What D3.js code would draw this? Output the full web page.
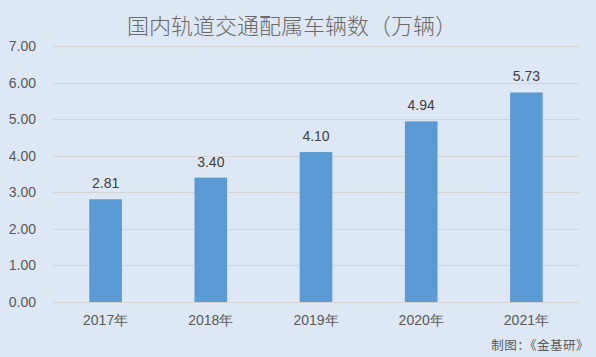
<!DOCTYPE html>
<html><head><meta charset="utf-8">
<script src="https://cdn.jsdelivr.net/npm/d3@7"></script>
<style>
html,body{margin:0;padding:0;background:#dde8f4;}
svg{display:block;font-family:"Noto Sans CJK SC","Noto Sans",sans-serif;}
</style></head>
<body><svg id="c" width="596" height="357"></svg>
<script>
const categories = ["2017年","2018年","2019年","2020年","2021年"];
const values = [2.81, 3.40, 4.10, 4.94, 5.73];
const yTicks = [0,1,2,3,4,5,6,7];
const title = "国内轨道交通配属车辆数（万辆）";
const source = "制图：《金基研》";

const svg = d3.select("#c");
const W = 596, H = 357;
svg.append("rect").attr("width",W).attr("height",H).attr("fill","#dde8f4");
const m = {l:53, r:17, t:46, b:55};
const x = d3.scaleBand().domain(categories).range([m.l, W-m.r]).paddingInner(0.69).paddingOuter(0.345);
const y = d3.scaleLinear().domain([0,7]).range([H-m.b, m.t]);

// gridlines
svg.append("g").selectAll("line").data(yTicks).join("line")
  .attr("x1",m.l).attr("x2",W-m.r)
  .attr("y1",d=>Math.round(y(d))+0.5).attr("y2",d=>Math.round(y(d))+0.5)
  .attr("stroke","#d4d4d4").attr("stroke-width",1);

// y axis labels
const ya = svg.append("g").attr("transform",`translate(${m.l-17},0)`)
  .call(d3.axisLeft(y).tickValues(yTicks).tickFormat(d3.format(".2f")).tickSize(0).tickPadding(0));
ya.select(".domain").remove();
ya.selectAll("text").attr("fill","#595959").attr("font-size","14px").attr("font-family","Liberation Sans, Arial, sans-serif");

// bars
svg.append("g").selectAll("rect").data(values).join("rect")
  .attr("x",(d,i)=>x(categories[i])).attr("width",x.bandwidth())
  .attr("y",d=>y(d)).attr("height",d=>y(0)-y(d))
  .attr("fill","#5b9bd5");

// value labels
svg.append("g").selectAll("text").data(values).join("text")
  .attr("x",(d,i)=>x(categories[i])+x.bandwidth()/2)
  .attr("y",d=>y(d)-11)
  .attr("text-anchor","middle").attr("fill","#404040").attr("font-size","14px")
  .attr("font-family","Liberation Sans, Arial, sans-serif")
  .text(d=>d3.format(".2f")(d));

// x axis
const xa = svg.append("g").attr("transform",`translate(0,${y(0)})`)
  .call(d3.axisBottom(x).tickSize(0).tickPadding(13));
xa.select(".domain").remove();
xa.selectAll("text").attr("fill","#595959").attr("font-size","14px");

// title
svg.append("text").attr("x",292).attr("y",34).attr("text-anchor","middle")
  .attr("fill","#6a6a6a").attr("font-size","22px").attr("font-weight","300").text(title);

// source
svg.append("text").attr("x",589).attr("y",350).attr("text-anchor","end")
  .attr("fill","#595959").attr("font-size","12.5px").attr("letter-spacing","0.5px").text(source);
</script></body></html>
